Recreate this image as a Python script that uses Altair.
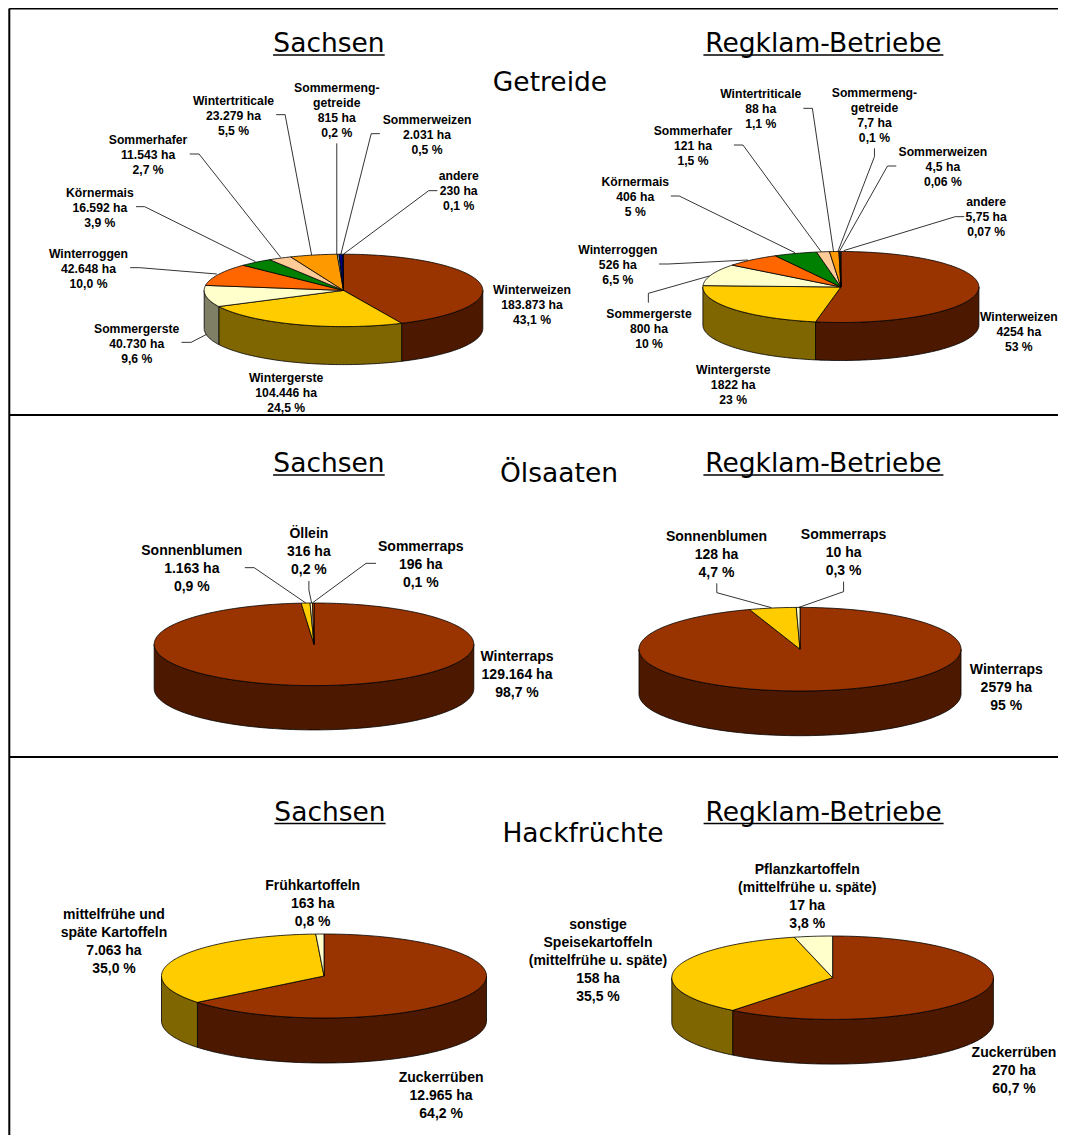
import math
import altair as alt

# ---------- values ----------
GETREIDE_NAMES = ["Winterweizen", "Wintergerste", "Sommergerste", "Winterroggen", "Körnermais",
                  "Sommerhafer", "Wintertriticale", "Sommermeng-\ngetreide", "Sommerweizen", "andere"]
GETREIDE_S_HA = [183873, 104446, 40730, 42648, 16592, 11543, 23279, 815, 2031, 230]
GETREIDE_S_HA_TXT = ["183.873", "104.446", "40.730", "42.648", "16.592", "11.543", "23.279", "815", "2.031", "230"]
GETREIDE_S_PCT = ["43,1", "24,5", "9,6", "10,0", "3,9", "2,7", "5,5", "0,2", "0,5", "0,1"]
GETREIDE_R_HA = [4254, 1822, 800, 526, 406, 121, 88, 7.7, 4.5, 5.75]
GETREIDE_R_HA_TXT = ["4254", "1822", "800", "526", "406", "121", "88", "7,7", "4,5", "5,75"]
GETREIDE_R_PCT = ["53", "23", "10", "6,5", "5", "1,5", "1,1", "0,1", "0,06", "0,07"]

OEL_S_NAMES = ["Winterraps", "Sonnenblumen", "Öllein", "Sommerraps"]
OEL_S_HA = [129164, 1163, 316, 196]
OEL_S_HA_TXT = ["129.164", "1.163", "316", "196"]
OEL_S_PCT = ["98,7", "0,9", "0,2", "0,1"]
OEL_R_NAMES = ["Winterraps", "Sonnenblumen", "Sommerraps"]
OEL_R_HA = [2579, 128, 10]
OEL_R_HA_TXT = ["2579", "128", "10"]
OEL_R_PCT = ["95", "4,7", "0,3"]

HACK_S_NAMES = ["Zuckerrüben", "mittelfrühe und\nspäte Kartoffeln", "Frühkartoffeln"]
HACK_S_HA = [12965, 7063, 163]
HACK_S_HA_TXT = ["12.965", "7.063", "163"]
HACK_S_PCT = ["64,2", "35,0", "0,8"]
HACK_R_NAMES = ["Zuckerrüben", "sonstige\nSpeisekartoffeln\n(mittelfrühe u. späte)", "Pflanzkartoffeln\n(mittelfrühe u. späte)"]
HACK_R_HA = [270, 158, 17]
HACK_R_HA_TXT = ["270", "158", "17"]
HACK_R_PCT = ["60,7", "35,5", "3,8"]

# ---------- styles and layout (page pixels) ----------
GETREIDE_COLORS = ["#993300", "#FFCC00", "#FFFFCC", "#FF6600", "#008000", "#FFCC99", "#FF9900", "#CCFFFF", "#000080", "#CCCCFF"]
OEL_S_COLORS = ["#993300", "#FFCC00", "#FFFFCC", "#FF6600"]
OEL_R_COLORS = ["#993300", "#FFCC00", "#FFFFCC"]
HACK_COLORS = ["#993300", "#FFCC00", "#FFFFCC"]

PIES = [
    dict(ha=GETREIDE_S_HA, colors=GETREIDE_COLORS, cx=343.5, cy=290.4, rx=139.3, ry=36.2, d=38),
    dict(ha=GETREIDE_R_HA, colors=GETREIDE_COLORS, cx=840.9, cy=287.0, rx=138, ry=35.5, d=38),
    dict(ha=OEL_S_HA, colors=OEL_S_COLORS, cx=314, cy=644.3, rx=159.8, ry=41.3, d=44.3),
    dict(ha=OEL_R_HA, colors=OEL_R_COLORS, cx=800, cy=649.2, rx=161, ry=41.8, d=44.7),
    dict(ha=HACK_S_HA, colors=HACK_COLORS, cx=324, cy=976, rx=162.5, ry=42, d=45),
    dict(ha=HACK_R_HA, colors=HACK_COLORS, cx=832.6, cy=977.7, rx=160.8, ry=41.7, d=44.7),
]

W, H = 1050, 1127
OFF = 8


def lines_of(name, ha, pct):
    return name.split("\n") + [f"{ha} ha", f"{pct} %"]


def zx(v, s, o=0):
    return o + v / s


# label anchors: (centre x, centre y)
G_S_POS = [(532, 304), (831 / 2.904, 392), (397 / 2.904, 343), (257 / 2.904, 268), (290 / 2.904, 207),
           (430 / 2.904, 154.3), (678 / 2.904, 115.3), (978 / 2.904, 109.7), (1240 / 2.904, 134), (1332 / 2.904, 190.3)]
G_R_POS = [(1018.8, 331), (zx(576, 2.981, 540), 384.7), (zx(325, 2.981, 540), 328.3), (zx(232, 2.981, 540), 264.3),
           (zx(284, 2.981, 540), 196.7), (zx(456, 2.981, 540), 145.7), (zx(658, 2.981, 540), 108.7),
           (zx(997, 2.981, 540), 115.2), (zx(1201, 2.981, 540), 166.7), (zx(1330, 2.981, 540), 216.7)]
O_S_POS = [(517, 674), (557 / 2.904, 568.3), (897 / 2.904, 551), (1222 / 2.904, 563.7)]
O_R_POS = [(zx(1390, 2.981, 540), 687), (zx(526, 2.981, 540), 554), (zx(905, 2.981, 540), 552.3)]
H_S_POS = [(1281 / 2.904, 1094.7), (331 / 2.904, 941), (908 / 2.904, 903)]
H_R_POS = [(1014, 1070), (zx(224, 2.872, 520), 959.7), (zx(825, 2.872, 520), 896)]


def gp(pts, s, o=0, yo=0):
    return [[o + x / s, yo + y / 3] for x, y in pts]


LEADERS = [
    gp([(802, 344), (828, 344), (905, 765)], 2.904), gp([(978, 430), (978, 762)], 2.904),
    gp([(1103, 401), (1078, 401), (990, 762)], 2.904), gp([(1270, 572), (1245, 572), (998, 762)], 2.904),
    gp([(551, 462), (578, 462), (815, 772)], 2.904), gp([(395, 620), (420, 620), (742, 785)], 2.904),
    gp([(378, 803), (405, 803), (630, 822)], 2.904), gp([(527, 1027), (555, 1027), (600, 1003)], 2.904),
    gp([(785, 325), (812, 325), (875, 755)], 2.981, 540), gp([(997, 445), (997, 470), (888, 755)], 2.981, 540),
    gp([(1062, 498), (1036, 498), (892, 755)], 2.981, 540), gp([(1265, 650), (1238, 650), (905, 752)], 2.981, 540),
    gp([(578, 435), (605, 435), (838, 755)], 2.981, 540), gp([(390, 588), (415, 588), (760, 758)], 2.981, 540),
    gp([(355, 792), (382, 792), (620, 780)], 2.981, 540), gp([(323, 908), (323, 880), (505, 828)], 2.981, 540),
    gp([(711, 443), (738, 443), (888, 549)], 2.904, 0, 420), gp([(897, 483), (897, 510), (905, 549)], 2.904, 0, 420),
    gp([(1092, 430), (1063, 430), (908, 548)], 2.904, 0, 420),
    gp([(527, 490), (527, 518), (690, 563)], 2.981, 540, 420), gp([(905, 485), (905, 515), (772, 562)], 2.981, 540, 420),
]

TITLES = [("Sachsen", 329, 44), ("Regklam-Betriebe", 823.4, 44), ("Getreide", 550, 83),
          ("Sachsen", 329, 464), ("Regklam-Betriebe", 823.4, 464), ("Ölsaaten", 559, 473.5),
          ("Sachsen", 330, 813), ("Regklam-Betriebe", 823.6, 813), ("Hackfrüchte", 583, 833.5)]
UNDERLINES = [[[273.1, 55], [384.7, 55]], [[703.4, 55], [943.4, 55]],
              [[273.1, 475], [384.7, 475]], [[703.4, 475], [943.4, 475]],
              [[274.4, 823.5], [385.6, 823.5]], [[703.6, 823.5], [943.6, 823.5]]]
FRAME = [[[9.3, 8.6], [1058, 8.6]], [[9.3, 8.6], [9.3, 1135]], [[9.3, 415], [1058, 415]], [[9.3, 757], [1058, 757]]]


# ---------- helpers ----------
def shift(pts):
    return [[round(x - OFF, 2), round(y - OFF, 2)] for x, y in pts]


def feature(kind, coords, **props):
    return {"type": "Feature", "geometry": {"type": kind, "coordinates": coords}, "properties": props}


def collection(features):
    return alt.Data(values={"type": "FeatureCollection", "features": features},
                    format=alt.DataFormat(property="features", type="json"))


def darker(c):
    r, g, b = [int(c[i:i + 2], 16) for i in (1, 3, 5)]
    return "#%02X%02X%02X" % (r // 2, g // 2, b // 2)


def arc_points(p, a0, a1, dy=0):
    n = max(2, int(abs(a1 - a0) / 0.02) + 1)
    out = []
    for i in range(n):
        a = a0 + (a1 - a0) * i / (n - 1)
        out.append([p["cx"] + p["rx"] * math.sin(a), p["cy"] - p["ry"] * math.cos(a) + dy])
    return out


def pie_features(p):
    total = sum(p["ha"])
    side, top = [], []
    acc = 0
    for v, c in zip(p["ha"], p["colors"]):
        a0 = acc / total * 2 * math.pi
        acc += v
        a1 = acc / total * 2 * math.pi
        top_ring = [[p["cx"], p["cy"]]] + arc_points(p, a0, a1) + [[p["cx"], p["cy"]]]
        top.append(feature("Polygon", [shift(top_ring)], fill=c))
        s0, s1 = max(a0, math.pi / 2), min(a1, 3 * math.pi / 2)
        if s1 > s0:
            upper = arc_points(p, s0, s1)
            lower = arc_points(p, s0, s1, p["d"])
            ring = upper + lower[::-1] + [upper[0]]
            side.append(feature("Polygon", [shift(ring)], fill=darker(c)))
    return side, top


PROJ = dict(type="identity", scale=1, translate=[0, 0])


def label_rows(names, has, pcts, pos, lh, dy):
    rows = []
    for n, h, q, (x, y) in zip(names, has, pcts, pos):
        lines = lines_of(n, h, q)
        # Vega anchors a multi-line text at its first line
        rows.append({"lines": lines, "x": x - OFF, "y": y + dy - OFF - lh * (len(lines) - 1) / 2})
    return rows


def text_layer(rows, size, lh):
    return alt.Chart(alt.Data(values=rows)).mark_text(
        font="Liberation Sans", fontWeight="bold", fontSize=size, lineHeight=lh,
        align="center", baseline="middle", color="#000000",
    ).encode(longitude="x:Q", latitude="y:Q", text=alt.Text("lines:N")).project(**PROJ)


# ---------- chart ----------
side_f, top_f = [], []
for p in PIES:
    s, t = pie_features(p)
    side_f += s
    top_f += t

sides = alt.Chart(collection(side_f)).mark_geoshape(stroke="#000000", strokeWidth=0.8).encode(
    fill=alt.Fill("properties.fill:N", scale=None)).project(**PROJ)
tops = alt.Chart(collection(top_f)).mark_geoshape(stroke="#000000", strokeWidth=0.8).encode(
    fill=alt.Fill("properties.fill:N", scale=None)).project(**PROJ)
leaders = alt.Chart(collection([feature("LineString", shift(l)) for l in LEADERS])).mark_geoshape(
    filled=False, stroke="#000000", strokeWidth=0.8).project(**PROJ)
underlines = alt.Chart(collection([feature("LineString", shift(l)) for l in UNDERLINES])).mark_geoshape(
    filled=False, stroke="#000000", strokeWidth=1.6).project(**PROJ)
frame = alt.Chart(collection([feature("LineString", shift(l)) for l in FRAME])).mark_geoshape(
    filled=False, stroke="#000000", strokeWidth=2).project(**PROJ)

LH_G, LH_O = 15, 18
labels_g = text_layer(label_rows(GETREIDE_NAMES, GETREIDE_S_HA_TXT, GETREIDE_S_PCT, G_S_POS, LH_G, 0.5)
                      + label_rows(GETREIDE_NAMES, GETREIDE_R_HA_TXT, GETREIDE_R_PCT, G_R_POS, LH_G, 0.5), 12.2, LH_G)
labels_o = text_layer(label_rows(OEL_S_NAMES, OEL_S_HA_TXT, OEL_S_PCT, O_S_POS, LH_O, 1)
                      + label_rows(OEL_R_NAMES, OEL_R_HA_TXT, OEL_R_PCT, O_R_POS, LH_O, 1)
                      + label_rows(HACK_S_NAMES, HACK_S_HA_TXT, HACK_S_PCT, H_S_POS, LH_O, 1)
                      + label_rows(HACK_R_NAMES, HACK_R_HA_TXT, HACK_R_PCT, H_R_POS, LH_O, 1), 14, LH_O)
titles = alt.Chart(alt.Data(values=[{"t": t, "x": x - OFF, "y": y - OFF} for t, x, y in TITLES])).mark_text(
    font="DejaVu Sans", fontSize=26.5, align="center", baseline="middle", color="#000000",
).encode(longitude="x:Q", latitude="y:Q", text="t:N").project(**PROJ)

chart = alt.layer(frame, sides, tops, leaders, underlines, labels_g, labels_o, titles).properties(
    width=W, height=H, autosize=alt.AutoSizeParams(type="none"), padding=0,
).configure_view(stroke=None).configure(background="white")

chart.save("out.html", embed_options={"renderer": "svg", "actions": False})
